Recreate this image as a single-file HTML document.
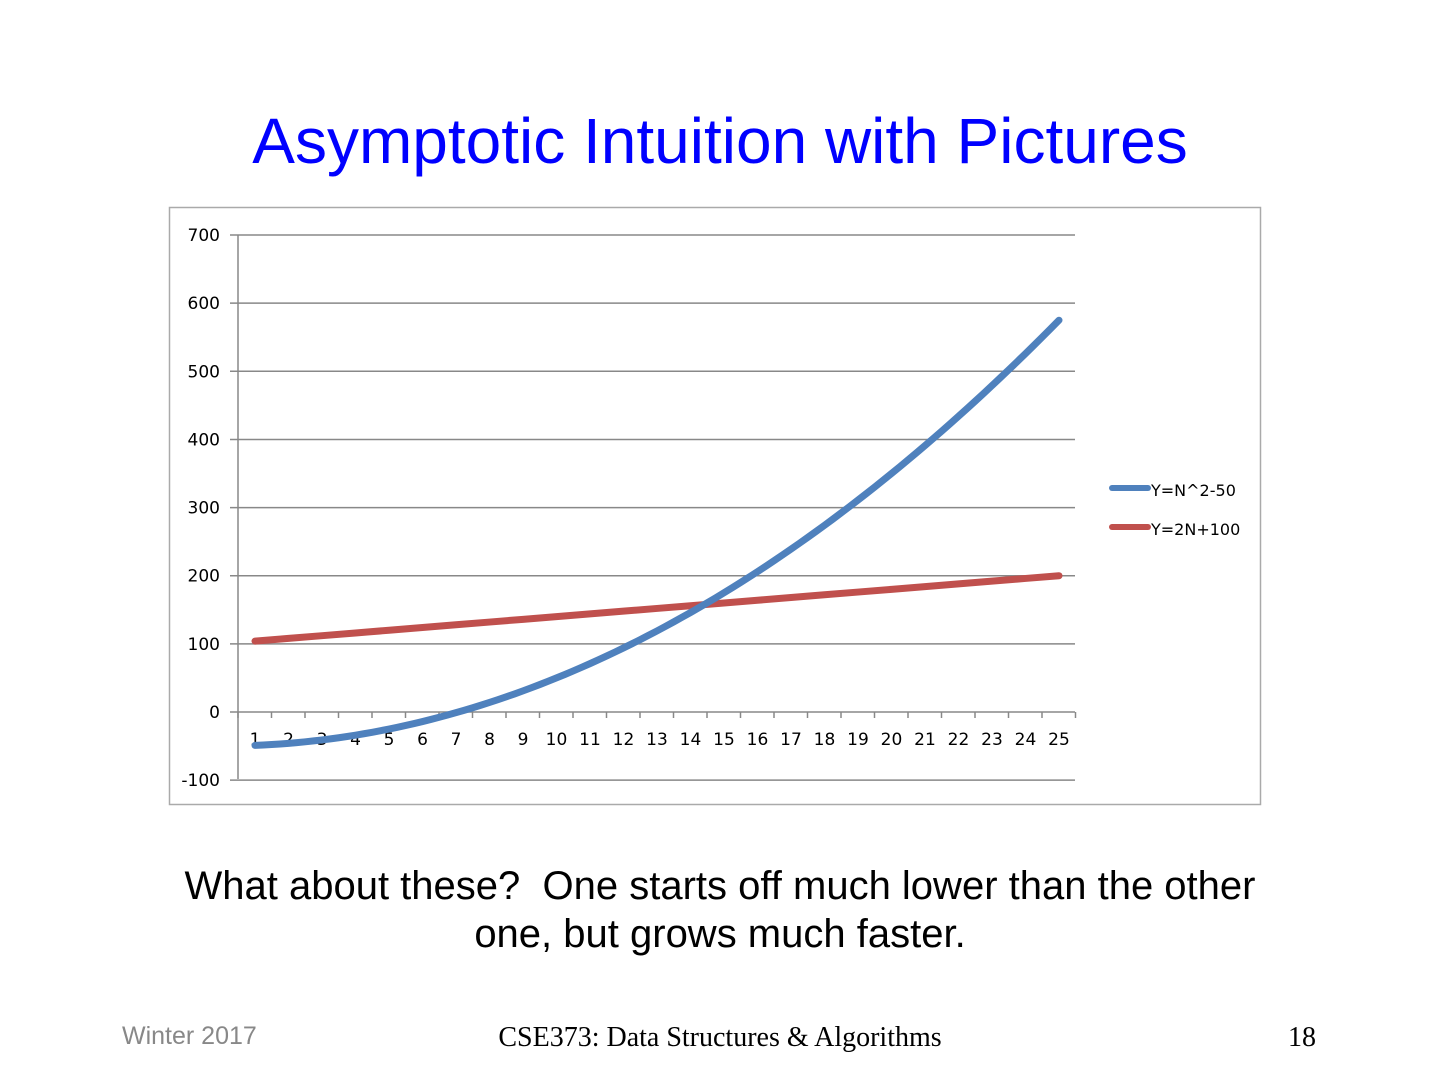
<!DOCTYPE html>
<html><head><meta charset="utf-8"><style>
body{margin:0;width:1440px;height:1080px;background:#fff;overflow:hidden;position:relative;font-family:"Liberation Sans",sans-serif}
.t{position:absolute;left:0;width:1440px;text-align:center;color:#0000ff;font-size:64px;top:104px}
.c{position:absolute;left:0;width:1440px;text-align:center;font-size:40px;top:862px;line-height:48px;color:#000}
.f{position:absolute;top:1022px;font-size:25px}
</style></head><body>
<div class="t">Asymptotic Intuition with Pictures</div>
<svg id="s" width="1440" height="1080" style="position:absolute;left:0;top:0" font-family="'DejaVu Sans','Liberation Sans',sans-serif"></svg>
<div class="c">What about these?&nbsp; One starts off much lower than the other<br>one, but grows much faster.</div>
<div class="f" style="left:122px;color:#888">Winter 2017</div>
<div class="f" style="left:0;width:1440px;text-align:center;font-family:'Liberation Serif',serif;font-size:28px">CSE373: Data Structures &amp; Algorithms</div>
<div class="f" style="left:1288px;font-family:'Liberation Serif',serif;font-size:28px">18</div>
<script>
var s='';
s+='<rect x="169.5" y="207.5" width="1091" height="597" fill="#fff" stroke="#aaa" stroke-width="1.5"/>';
function Y(v){return 712-v*0.6814}
function X(n){return 255+(n-1)*33.5}
for(var v=-100;v<=700;v+=100){var y=Y(v);s+='<line x1="230" x2="1075" y1="'+y+'" y2="'+y+'" stroke="#888" stroke-width="1.5"/>';
s+='<text x="220" y="'+(y+6)+'" text-anchor="end" font-size="17">'+v+'</text>';}
s+='<line x1="238" x2="238" y1="235" y2="779" stroke="#888" stroke-width="1.5"/>';
for(var i=0;i<=25;i++){var x=238+i*33.5;s+='<line x1="'+x+'" x2="'+x+'" y1="712" y2="718" stroke="#888" stroke-width="1.5"/>';}
for(var n=1;n<=25;n++){s+='<text x="'+X(n)+'" y="745" text-anchor="middle" font-size="17">'+n+'</text>';}
var a='',b='';
for(var n=1;n<=25;n+=0.25){a+=X(n)+','+Y(n*n-50)+' ';}
for(var n=1;n<=25;n++){b+=X(n)+','+Y(4*n+100)+' ';}
s+='<polyline points="'+b+'" fill="none" stroke="#c0504d" stroke-width="7" stroke-linecap="round"/>';
s+='<polyline points="'+a+'" fill="none" stroke="#4f81bd" stroke-width="7" stroke-linecap="round"/>';
s+='<line x1="1112" x2="1148" y1="488" y2="488" stroke="#4f81bd" stroke-width="6" stroke-linecap="round"/>';
s+='<line x1="1112" x2="1148" y1="527" y2="527" stroke="#c0504d" stroke-width="6" stroke-linecap="round"/>';
s+='<text x="1151" y="496" font-size="16">Y=N^2-50</text>';
s+='<text x="1151" y="535" font-size="16">Y=2N+100</text>';
document.getElementById('s').innerHTML=s;
</script>
</body></html>
